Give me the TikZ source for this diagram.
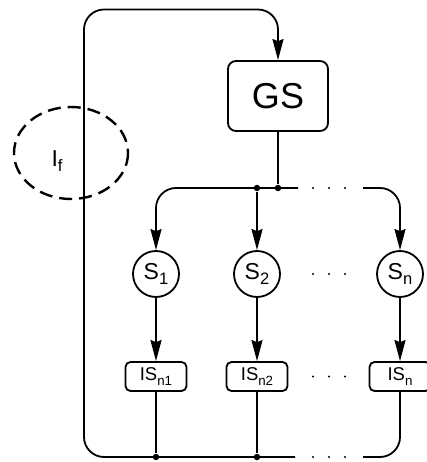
\documentclass[tikz,border=0pt]{standalone}
\usepackage{fontspec}
\setmainfont{Liberation Sans}
\usetikzlibrary{arrows.meta}

\newcommand{\lowsub}[1]{\raisebox{-0.25em}{\scalebox{0.72}{#1}}}

\begin{document}
\begin{tikzpicture}[x=1pt, y=-1pt, line width=1.8pt]
\tikzset{
  flow/.style={-{Stealth[length=21pt,width=11pt,inset=2pt]}},
  gsbox/.style={draw, rounded corners=8pt, minimum width=100pt, minimum height=70pt, inner sep=0pt, font=\fontsize{36}{40}\selectfont},
  isbox/.style={draw, rounded corners=5pt, minimum width=61pt, minimum height=29pt, inner sep=0pt, font=\fontsize{18.5}{20}\selectfont},
  snode/.style={draw, circle, minimum size=46pt, inner sep=0pt, font=\fontsize{23}{25}\selectfont},
  jdot/.style={fill, circle, inner sep=0pt, minimum size=6.5pt},
}

\clip (0,0) rectangle (427,462);

%\draw [lightgray, dashed](0,0) grid[step=50] (427,462);

\node [gsbox] (GS) at (278,96) {GS};

\node [snode] (S1) at (156,274) {S\lowsub{1}};
\node [snode] (S2) at (257,274) {S\lowsub{2}};
\node [snode] (Sn) at (400,274) {S\lowsub{n}};

\node [isbox] (IS1) at (156,376.5) {IS\lowsub{n1}};
\node [isbox] (IS2) at (257,376.5) {IS\lowsub{n2}};
\node [isbox] (ISn) at (400,376.5) {IS\lowsub{n}};

\node [jdot] (jA) at (257,188) {};
\node [jdot] (jB) at (278,188) {};
\node [jdot] (kA) at (156,457) {};
\node [jdot] (kB) at (257,457) {};

\coordinate (tl)  at (84,9.5);
\coordinate (brL) at (298,188);
\coordinate (brR) at (363,188);
\coordinate (btL) at (295,457);
\coordinate (btR) at (363,457);

\draw (GS) -- (jB);
\draw [flow, rounded corners=20pt] (brL) -| (S1.north);
\draw [flow] (jA) -- (S2);
\draw [flow, rounded corners=20pt] (brR) -| (Sn.north);

\draw [flow] (S1) -- (IS1);
\draw [flow] (S2) -- (IS2);
\draw [flow] (Sn) -- (ISn);

\draw (IS1) -- (kA);
\draw (IS2) -- (kB);
\draw [rounded corners=20pt] (ISn) |- (btR);

\draw [flow, rounded corners=20pt] (btL) -| (tl) -| (GS.north);

\foreach \y in {188,274,376.5,457}
  \foreach \x in {313,329,345}
    \fill (\x,\y) circle (1.2pt);

\draw [dash pattern=on 13pt off 7pt, line width=2.4pt] (71,153) ellipse [x radius=57, y radius=46];
\node (lf) at (57,161) {\fontsize{23}{25}\selectfont I\lowsub{f}};
\end{tikzpicture}
\end{document}
